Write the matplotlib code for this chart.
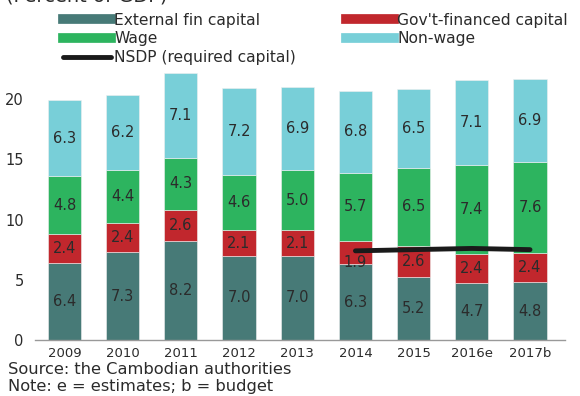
import numpy as np
import matplotlib
matplotlib.use("Agg")
import matplotlib.pyplot as plt
from matplotlib.lines import Line2D

years = ["2009", "2010", "2011", "2012", "2013", "2014", "2015", "2016e", "2017b"]
ext_capital = [6.4, 7.3, 8.2, 7.0, 7.0, 6.3, 5.2, 4.7, 4.8]
gov_capital = [2.4, 2.4, 2.6, 2.1, 2.1, 1.9, 2.6, 2.4, 2.4]
wage = [4.8, 4.4, 4.3, 4.6, 5.0, 5.7, 6.5, 7.4, 7.6]
non_wage = [6.3, 6.2, 7.1, 7.2, 6.9, 6.8, 6.5, 7.1, 6.9]
nsdp_years = ["2014", "2015", "2016e", "2017b"]
nsdp = [7.4, 7.5, 7.6, 7.5]

colors = ["#477A77", "#C1272D", "#2DB45F", "#78CFD8"]
txt = "#2b2b2b"

plt.rcParams["font.family"] = "DejaVu Sans"

fig = plt.figure(figsize=(5.8, 3.96), dpi=100)
ax = fig.add_axes([0.060, 0.1414, 0.914, 0.7606])

x = np.arange(len(years))
bottom = np.zeros(len(years))
for k, (vals, col) in enumerate(zip([ext_capital, gov_capital, wage, non_wage], colors)):
    vals = np.array(vals)
    ax.bar(x, vals, width=0.57, bottom=bottom, color=col,
           edgecolor="#f0f0f0", linewidth=0.4)
    for xi, b, v in zip(x, bottom, vals):
        ypos = b + v / 2
        # push the 2014 gov label below the NSDP line
        if k == 1 and years[xi] == "2014":
            ypos -= 0.85
        ax.text(xi, ypos, f"{v:.1f}", ha="center", va="center",
                fontsize=10.5, color=txt)
    bottom += vals

# NSDP required capital line
nx = [years.index(y) for y in nsdp_years]
ax.plot(nx, nsdp, color="#1a1a1a", lw=3.5, solid_capstyle="round")

ax.set_xlim(-0.51, 8.6)
ax.set_ylim(0, 25)
ax.set_xticks(x)
ax.set_xticklabels(years, fontsize=9.5, color=txt)
ax.set_yticks([0, 5, 10, 15, 20])
ax.set_yticklabels(["0", "5", "10", "15", "20"], fontsize=10.5, color=txt)
ax.tick_params(axis="both", length=0)
ax.tick_params(axis="x", pad=5)
ax.tick_params(axis="y", pad=8)
for s in ["top", "right", "left"]:
    ax.spines[s].set_visible(False)
ax.spines["bottom"].set_color("#999999")
ax.spines["bottom"].set_linewidth(1)

handles = [
    Line2D([], [], color=colors[0], lw=7),
    Line2D([], [], color=colors[2], lw=7),
    Line2D([], [], color="#1a1a1a", lw=3.5, solid_capstyle="round"),
    Line2D([], [], color=colors[1], lw=7),
    Line2D([], [], color=colors[3], lw=7),
]
labels = ["External fin capital", "Wage", "NSDP (required capital)",
          "Gov't-financed capital", "Non-wage"]
fig.legend(handles, labels, ncol=2, loc="upper left",
           bbox_to_anchor=(0.095, 0.988), frameon=False, fontsize=11.2,
           handlelength=3.1, handletextpad=0.2, columnspacing=3.2,
           labelspacing=0.25, borderpad=0, labelcolor=txt)

fig.text(0.01, 1 - 6 / 396, "(Percent of GDP)", fontsize=14, color=txt,
         va="bottom", ha="left")
fig.text(0.014, 1 - 370 / 396, "Source: the Cambodian authorities",
         fontsize=11.7, color=txt, va="center")
fig.text(0.014, 1 - 386 / 396, "Note: e = estimates; b = budget",
         fontsize=11.7, color=txt, va="center")

fig.savefig("out.png", dpi=100)
